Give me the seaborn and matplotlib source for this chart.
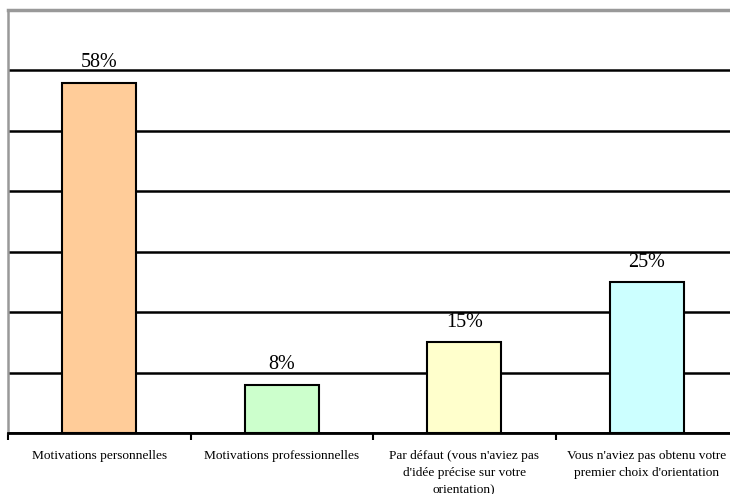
import matplotlib
matplotlib.use("Agg")
import matplotlib.pyplot as plt
import seaborn as sns
import pandas as pd

categories = [
    "Motivations personnelles",
    "Motivations professionnelles",
    "Par défaut (vous n'aviez pas\nd'idée précise sur votre\norientation)",
    "Vous n'aviez pas obtenu votre\npremier choix d'orientation",
]
values = [58, 8, 15, 25]
colors = ["#FFCC99", "#CCFFCC", "#FFFFCC", "#CCFFFF"]

sns.set_style("white")
plt.rcParams["font.family"] = ["Liberation Serif", "DejaVu Serif"]
plt.rcParams["text.color"] = "black"
plt.rcParams["xtick.color"] = "black"

df = pd.DataFrame({"cat": categories, "val": values})

fig = plt.figure(figsize=(7.30, 4.94), dpi=100)
ax = fig.add_axes([8 / 730, 61 / 494, 730 / 730, 423 / 494])

sns.barplot(data=df, x="cat", y="val", hue="cat", palette=colors, legend=False,
            width=0.405, edgecolor="black", linewidth=1.5, saturation=1, ax=ax, zorder=3)

ax.set_xlim(-0.5, 3.5)
ax.set_ylim(0, 70)
ax.set_yticks(range(0, 71, 10))
ax.yaxis.grid(True, color="black", linewidth=1.8, zorder=0)
ax.set_axisbelow(True)
ax.tick_params(axis="y", left=False, labelleft=False)
ax.set_xlabel("")
ax.set_ylabel("")

ax.set_xticks(range(4))
ax.set_xticklabels(categories, fontsize=9.6, linespacing=1.6, color="black")
ax.tick_params(axis="x", which="major", length=0, pad=12)
ax.set_xticks([-0.5, 0.5, 1.5, 2.5, 3.5], minor=True)
ax.tick_params(axis="x", which="minor", length=5, width=1.5, color="black", direction="out", bottom=True)

for s in ["top", "left"]:
    ax.spines[s].set_color("#999999")
ax.spines["top"].set_linewidth(2.5)
ax.spines["left"].set_linewidth(1.8)
ax.spines["bottom"].set_color("black")
ax.spines["bottom"].set_linewidth(2.0)
ax.spines["right"].set_visible(False)

for c in ax.containers:
    for bar in c:
        if bar is None:
            continue
        h = bar.get_height()
        if h != h:
            continue
        ax.annotate(f"{h:.0f}%", (bar.get_x() + bar.get_width() / 2, h),
                    xytext=(0, 7.5), textcoords="offset points",
                    ha="center", va="bottom", fontsize=14.5, color="black")

fig.savefig("out.png", dpi=100)
